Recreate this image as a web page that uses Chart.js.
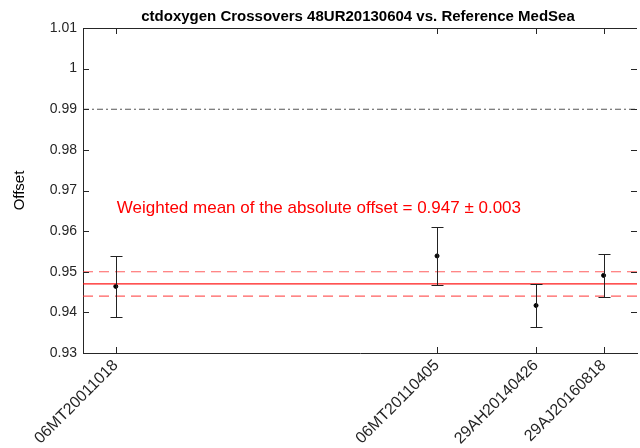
<!DOCTYPE html>
<html>
<head>
<meta charset="utf-8">
<script src="https://cdn.jsdelivr.net/npm/chart.js@4/dist/chart.umd.min.js"></script>
<style>
  html, body { margin: 0; padding: 0; background: #fff; }
  #wrap { width: 640px; height: 448px; }
</style>
</head>
<body>
<div id="wrap"><canvas id="xoChart"></canvas></div>
<script>
// crossover cruises and their positions along the x axis
const cruises = ['06MT20011018', '06MT20110405', '29AH20140426', '29AJ20160818'];
const cruiseX = [1, 10.8, 13.82, 15.88];
// offsets and their errors
const offsets = [0.9464, 0.9539, 0.9417, 0.9491];
const offsetErr = [0.0075, 0.0072, 0.0053, 0.0053];

const meanOffset = 0.947;
const meanErr = 0.003;
const refLine = 0.99;
const yTicks = [0.93, 0.94, 0.95, 0.96, 0.97, 0.98, 0.99, 1, 1.01];

const xMin = 0, xMax = 16.9;
const axisCol = '#262626';
const fontFam = '"Liberation Sans", Arial, sans-serif';

// error bars, inward ticks, box, title and the red text
const extras = {
  id: 'extras',
  afterDatasetsDraw(chart) {
    const c = chart.ctx;
    const xs = chart.scales.x, ys = chart.scales.y;
    const a = chart.chartArea;

    // error bars
    c.save();
    c.strokeStyle = '#222';
    c.lineWidth = 1;
    for (let i = 0; i < offsets.length; i++) {
      let px = Math.round(xs.getPixelForValue(cruiseX[i])) + 0.5;
      let top = Math.round(ys.getPixelForValue(offsets[i] + offsetErr[i])) + 0.5;
      let bot = Math.round(ys.getPixelForValue(offsets[i] - offsetErr[i])) + 0.5;
      c.beginPath();
      c.moveTo(px, top); c.lineTo(px, bot);
      c.moveTo(px - 6, top); c.lineTo(px + 6, top);
      c.moveTo(px - 6, bot); c.lineTo(px + 6, bot);
      c.stroke();
    }
    c.restore();

    // box + inward ticks
    c.save();
    c.strokeStyle = axisCol;
    c.lineWidth = 1;
    c.beginPath();
    c.moveTo(a.left, a.top + 0.5); c.lineTo(a.right, a.top + 0.5);
    for (let v of yTicks) {
      let py = Math.round(ys.getPixelForValue(v)) + 0.5;
      c.moveTo(a.left, py); c.lineTo(a.left + 6, py);
      c.moveTo(a.right, py); c.lineTo(a.right - 6, py);
    }
    for (let v of cruiseX) {
      let px = Math.round(xs.getPixelForValue(v)) + 0.5;
      c.moveTo(px, a.bottom); c.lineTo(px, a.bottom - 6);
      c.moveTo(px, a.top); c.lineTo(px, a.top + 6);
    }
    c.stroke();
    c.restore();

    // title
    c.save();
    c.fillStyle = '#000';
    c.font = 'bold 15px ' + fontFam;
    c.textAlign = 'center';
    c.textBaseline = 'bottom';
    c.fillText('ctdoxygen Crossovers 48UR20130604 vs. Reference MedSea', (a.left + a.right) / 2 - 2, a.top - 4);

    // weighted mean text
    c.fillStyle = '#ff0000';
    c.font = '17px ' + fontFam;
    c.textAlign = 'left';
    c.textBaseline = 'middle';
    c.fillText('Weighted mean of the absolute offset = ' + meanOffset.toFixed(3) + ' \u00b1 ' + meanErr.toFixed(3),
      xs.getPixelForValue(cruiseX[0]) + 1, ys.getPixelForValue(0.9656));
    c.restore();
  }
};

function hLine(y, color, dash) {
  return {
    type: 'line',
    data: [{ x: xMin, y: y }, { x: xMax, y: y }],
    borderColor: color,
    borderWidth: 1.2,
    borderDash: dash,
    pointRadius: 0,
    fill: false
  };
}

new Chart(document.getElementById('xoChart'), {
  type: 'scatter',
  data: {
    datasets: [
      hLine(refLine, '#555555', [6, 3, 2, 3]),
      hLine(meanOffset, 'rgba(255,0,0,0.9)', []),
      hLine(meanOffset + meanErr, 'rgba(255,40,40,0.75)', [10, 6]),
      hLine(meanOffset - meanErr, 'rgba(255,40,40,0.75)', [10, 6]),
      {
        type: 'scatter',
        data: cruiseX.map((x, i) => ({ x: x, y: offsets[i] })),
        backgroundColor: '#000',
        borderColor: '#000',
        pointRadius: 2,
        pointHoverRadius: 2
      }
    ]
  },
  options: {
    responsive: true,
    maintainAspectRatio: false,
    animation: false,
    layout: { padding: { top: 28, right: 0, left: 11, bottom: 0 } },
    plugins: {
      legend: { display: false },
      tooltip: { enabled: false },
      title: { display: false }
    },
    scales: {
      x: {
        type: 'linear',
        min: xMin,
        max: xMax,
        afterBuildTicks(scale) {
          scale.ticks = cruiseX.map(v => ({ value: v }));
        },
        afterFit(scale) { scale.height = 95; },
        grid: { display: false, drawTicks: false },
        border: { color: axisCol },
        ticks: {
          autoSkip: false,
          minRotation: 45,
          maxRotation: 45,
          padding: 3,
          color: axisCol,
          font: { family: fontFam, size: 16 },
          callback: function (v) {
            let i = cruiseX.indexOf(v);
            return i >= 0 ? cruises[i] : '';
          }
        }
      },
      y: {
        min: 0.93,
        max: 1.01,
        afterBuildTicks(scale) {
          scale.ticks = yTicks.map(v => ({ value: v }));
        },
        afterFit(scale) { scale.width = 72; },
        grid: { display: false, drawTicks: false },
        border: { color: axisCol },
        title: {
          display: true,
          text: 'Offset',
          color: '#000',
          padding: { top: 0, bottom: 0 },
          font: { family: fontFam, size: 15 }
        },
        ticks: {
          padding: 6,
          color: axisCol,
          font: { family: fontFam, size: 14 },
          callback: function (v) { return String(parseFloat(v.toFixed(2))); }
        }
      }
    }
  },
  plugins: [extras]
});
</script>
</body>
</html>
